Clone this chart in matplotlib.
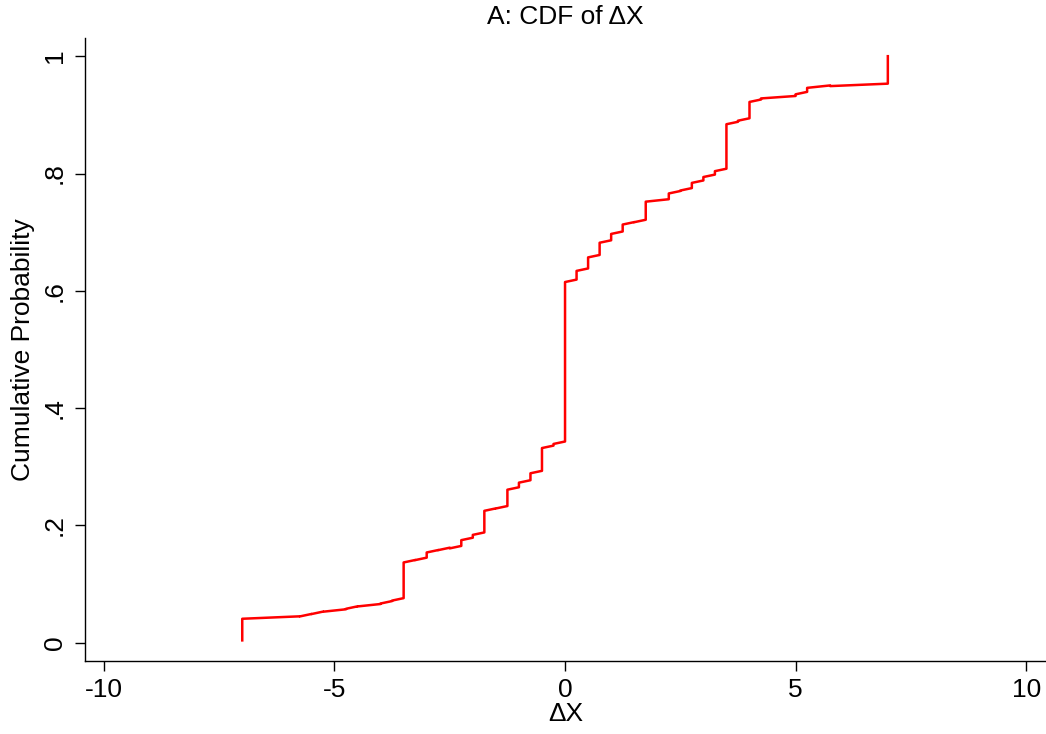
import numpy as np
import matplotlib
matplotlib.use("Agg")
from matplotlib import pyplot as plt

# distinct values of delta X and the cumulative share after each one
dx_values = [-7, -5.75, -5.5, -5.25, -4.75, -4.5, -4, -3.75, -3.5, -3.25, -3,
             -2.75, -2.5, -2.25, -2, -1.75, -1.5, -1.25, -1, -0.75, -0.5, -0.25,
             0, 0.25, 0.5, 0.75, 1, 1.25, 1.5, 1.75, 2.25, 2.5, 2.75, 3, 3.25,
             3.5, 3.75, 4, 4.25, 5, 5.25, 5.75, 7]
cdf_values = [0.041, 0.045, 0.049, 0.053, 0.058, 0.062, 0.067, 0.072, 0.137,
              0.141, 0.154, 0.158, 0.161, 0.175, 0.184, 0.225, 0.229, 0.261,
              0.273, 0.289, 0.332, 0.339, 0.615, 0.634, 0.657, 0.682, 0.697,
              0.713, 0.717, 0.752, 0.766, 0.771, 0.784, 0.794, 0.804, 0.884,
              0.890, 0.922, 0.928, 0.935, 0.946, 0.949, 1.0]
n_obs = 240  # one observation = 1/n of probability

plt.rcParams["font.family"] = ["Liberation Sans", "DejaVu Sans"]
plt.rcParams["axes.unicode_minus"] = False

# cumul without ties: each group of equal values is a vertical run of points
xs, ys = [], []
prev = 0.0
for x, f in zip(dx_values, cdf_values):
    xs += [x, x]
    ys += [prev + 1.0 / n_obs, f]
    prev = f

fig = plt.figure(figsize=(10.46, 7.34), dpi=100)
ax = fig.add_axes([85 / 1046, 1 - 661 / 734, (1046 - 85) / 1046, (661 - 38) / 734])
ax.plot(xs, ys, color="red", lw=1.8)

ax.set_xlim(-10.41, 10.43)
ax.set_ylim(-0.031, 1.031)
ax.set_xticks([-10, -5, 0, 5, 10])
ax.set_yticks([0, 0.2, 0.4, 0.6, 0.8, 1])
ax.set_yticklabels(["0", ".2", ".4", ".6", ".8", "1"], rotation=90, va="center")
ax.tick_params(direction="out", length=7, width=1, labelsize=19, colors="black")
ax.tick_params(axis="y", pad=6)
ax.tick_params(axis="x", pad=5)
for side in ["top", "right"]:
    ax.spines[side].set_visible(False)
ax.spines["left"].set_linewidth(1)
ax.spines["bottom"].set_linewidth(1)

ax.set_xlabel("ΔX", fontsize=19, labelpad=0)
ax.set_ylabel("Cumulative Probability", fontsize=19, labelpad=6)
fig.text(565 / 1046, 1 - 17 / 734, "A: CDF of ΔX", fontsize=19, ha="center", va="center")

fig.savefig("out.png", dpi=100)
